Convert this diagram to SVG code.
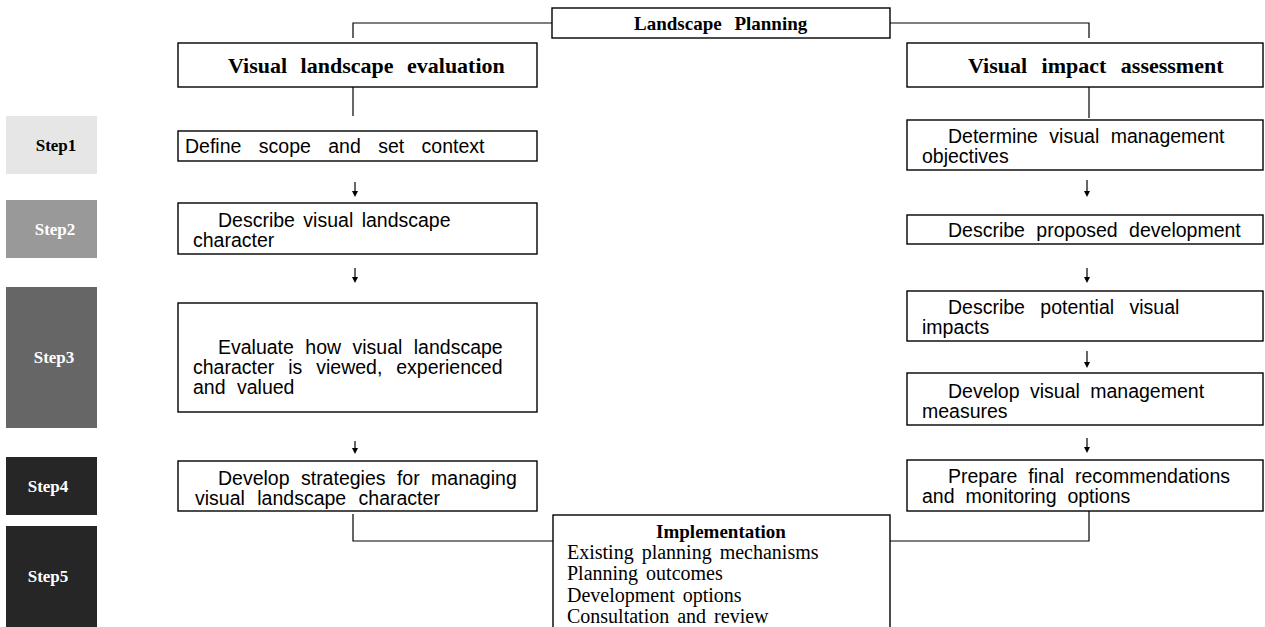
<svg xmlns="http://www.w3.org/2000/svg" width="1265" height="627" viewBox="0 0 1265 627">
<defs>
<style>
.box{fill:#fff;stroke:#000;stroke-width:1.4}
.conn{fill:none;stroke:#000;stroke-width:1.2}
.ah{fill:#000;stroke:none}
.t{font-family:"Liberation Sans",Arial,sans-serif;font-size:19.5px;fill:#000}
.h{font-family:"Liberation Serif","Times New Roman",serif;font-weight:bold;fill:#000}
.step{font-family:"Liberation Serif","Times New Roman",serif;font-weight:bold;font-size:17px;text-anchor:middle}
.impl{font-family:"Liberation Serif","Times New Roman",serif;font-size:20px;fill:#000}
</style>
</defs>
<rect width="1265" height="627" fill="#fff"/>

<g id="connectors">
<path class="conn" d="M552,23 H353 V38"/>
<path class="conn" d="M890,23 H1089 V38"/>
<path class="conn" d="M353,87 V116"/>
<path class="conn" d="M1089,87 V118"/>
<path class="conn" d="M353,514 V541 H553"/>
<path class="conn" d="M1089,511 V541 H890"/>
<g id="arrows">
<path class="conn" d="M355,182 V194"/><path class="ah" d="M352,191 L355,197 L358,191 Z"/>
<path class="conn" d="M355,268 V280"/><path class="ah" d="M352,277 L355,283 L358,277 Z"/>
<path class="conn" d="M355,441 V451"/><path class="ah" d="M352,448 L355,454 L358,448 Z"/>
<path class="conn" d="M1087,180 V194"/><path class="ah" d="M1084,191 L1087,197 L1090,191 Z"/>
<path class="conn" d="M1087,268 V280"/><path class="ah" d="M1084,277 L1087,283 L1090,277 Z"/>
<path class="conn" d="M1087,351 V365"/><path class="ah" d="M1084,362 L1087,368 L1090,362 Z"/>
<path class="conn" d="M1087,438 V450"/><path class="ah" d="M1084,447 L1087,453 L1090,447 Z"/>
</g>
</g>

<g id="landscape-planning">
<rect class="box" x="552" y="8" width="338" height="30"/>
<text class="h" x="634" y="30" font-size="19" word-spacing="8">Landscape Planning</text>
</g>

<g id="visual-landscape-evaluation">
<rect class="box" x="178" y="43" width="359" height="44"/>
<text class="h" x="228" y="73" font-size="22" word-spacing="8">Visual landscape evaluation</text>
</g>

<g id="visual-impact-assessment">
<rect class="box" x="907" y="43" width="356" height="44"/>
<text class="h" x="968" y="73" font-size="22" word-spacing="9">Visual impact assessment</text>
</g>

<g id="step1"><rect x="6" y="116" width="91" height="58" fill="#e6e6e6"/><text class="step" x="56" y="151" fill="#000">Step1</text></g>
<g id="step2"><rect x="6" y="200" width="91" height="58" fill="#999999"/><text class="step" x="55" y="235" fill="#fff">Step2</text></g>
<g id="step3"><rect x="6" y="287" width="91" height="141" fill="#666666"/><text class="step" x="54" y="363" fill="#fff">Step3</text></g>
<g id="step4"><rect x="6" y="457" width="91" height="58" fill="#262626"/><text class="step" x="48" y="492" fill="#fff">Step4</text></g>
<g id="step5"><rect x="6" y="526" width="91" height="101" fill="#262626"/><text class="step" x="48" y="582" fill="#fff">Step5</text></g>

<g id="define-scope">
<rect class="box" x="178" y="131" width="359" height="30"/>
<text class="t" x="185" y="153" word-spacing="12">Define scope and set context</text>
</g>

<g id="describe-character">
<rect class="box" x="178" y="203" width="359" height="51"/>
<text class="t" x="218" y="227" word-spacing="3">Describe visual landscape</text>
<text class="t" x="193" y="247">character</text>
</g>

<g id="evaluate">
<rect class="box" x="178" y="303" width="359" height="109"/>
<text class="t" x="218" y="354" word-spacing="6">Evaluate how visual landscape</text>
<text class="t" x="193" y="374" word-spacing="8.5">character is viewed, experienced</text>
<text class="t" x="193" y="394" word-spacing="6">and valued</text>
</g>

<g id="develop-strategies">
<rect class="box" x="178" y="461" width="359" height="50"/>
<text class="t" x="218" y="485" word-spacing="6">Develop strategies for managing</text>
<text class="t" x="195" y="505" word-spacing="7">visual landscape character</text>
</g>

<g id="determine-objectives">
<rect class="box" x="907" y="120" width="356" height="50"/>
<text class="t" x="948" y="143" word-spacing="6">Determine visual management</text>
<text class="t" x="922" y="163">objectives</text>
</g>

<g id="describe-development">
<rect class="box" x="907" y="215" width="356" height="29"/>
<text class="t" x="948" y="237" word-spacing="6">Describe proposed development</text>
</g>

<g id="describe-impacts">
<rect class="box" x="907" y="291" width="356" height="50"/>
<text class="t" x="948" y="314" word-spacing="10">Describe potential visual</text>
<text class="t" x="922" y="334">impacts</text>
</g>

<g id="develop-measures">
<rect class="box" x="907" y="373" width="356" height="52"/>
<text class="t" x="948" y="398" word-spacing="5">Develop visual management</text>
<text class="t" x="922" y="418">measures</text>
</g>

<g id="prepare-recommendations">
<rect class="box" x="907" y="460" width="356" height="51"/>
<text class="t" x="948" y="483" word-spacing="5.5">Prepare final recommendations</text>
<text class="t" x="922" y="503" word-spacing="5.5">and monitoring options</text>
</g>

<g id="implementation">
<rect class="box" x="553" y="515" width="337" height="130"/>
<text class="h" x="721" y="538" font-size="19" text-anchor="middle">Implementation</text>
<text class="impl" x="567" y="559" word-spacing="3">Existing planning mechanisms</text>
<text class="impl" x="567" y="580" word-spacing="3">Planning outcomes</text>
<text class="impl" x="567" y="602" word-spacing="3">Development options</text>
<text class="impl" x="567" y="623" word-spacing="3">Consultation and review</text>
</g>
</svg>
